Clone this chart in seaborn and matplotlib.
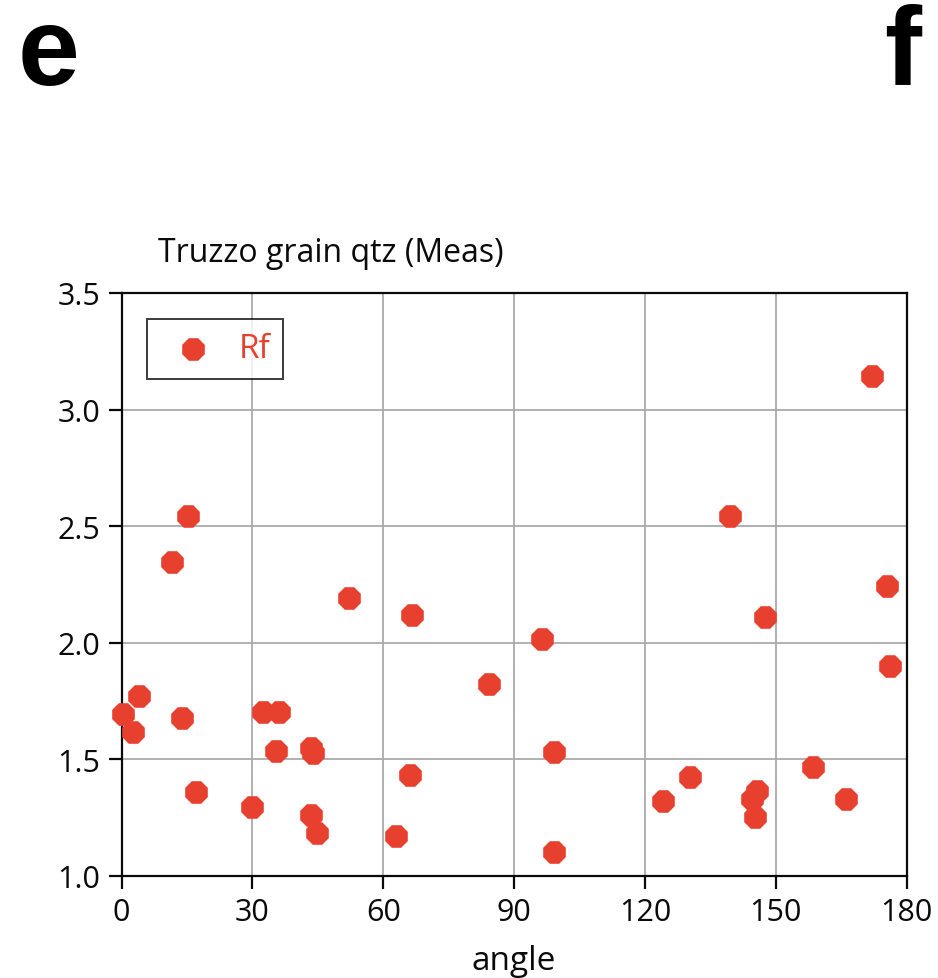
import matplotlib
matplotlib.use("Agg")
import matplotlib.pyplot as plt
import seaborn as sns
import pandas as pd

# data
angle = [15.3, 11.5, 52.2, 172.0, 139.6, 175.4, 66.6, 84.3, 4.0, 0.4, 2.7, 13.8,
         32.3, 36.1, 35.4, 43.4, 43.9, 66.1, 17.0, 29.9, 43.4, 44.9, 62.9,
         96.3, 99.2, 99.2, 147.5, 176.2, 124.2, 130.3, 145.6, 144.6, 145.2, 158.6, 166.0]
rf = [2.544, 2.344, 2.19, 3.145, 2.544, 2.242, 2.120, 1.822, 1.772, 1.694, 1.615, 1.677,
      1.701, 1.701, 1.534, 1.548, 1.526, 1.432, 1.358, 1.293, 1.262, 1.182, 1.172,
      2.015, 1.529, 1.103, 2.108, 1.901, 1.322, 1.422, 1.365, 1.329, 1.251, 1.465, 1.329]
x_ticks = [0, 30, 60, 90, 120, 150, 180]
y_ticks = [1.0, 1.5, 2.0, 2.5, 3.0, 3.5]
series_name = "Rf"
title = "Truzzo grain qtz (Meas)"
x_label = "angle"

df = pd.DataFrame({"angle": angle, "Rf": rf})

sns.set_theme(style="white")
plt.rcParams["font.family"] = ["Open Sans", "DejaVu Sans"]

red = "#E8402F"
ink = "#0a0a0a"
fig = plt.figure(figsize=(9.38, 9.79), dpi=100)
ax = fig.add_axes([0.1297, 0.1045, 0.9666 - 0.1297, 0.6997 - 0.1045])

sns.scatterplot(data=df, x="angle", y="Rf", ax=ax, color=red, marker="8", s=310,
                linewidth=0, label=series_name, zorder=3, clip_on=False)

ax.set_xlim(0, 180)
ax.set_ylim(1.0, 3.5)
ax.set_xticks(x_ticks)
ax.set_xticklabels([str(t) for t in x_ticks])
ax.set_yticks(y_ticks)
ax.set_yticklabels([f"{t:.1f}" for t in y_ticks])
ax.grid(True, color="#aaaaaa", linewidth=1.3)
ax.set_axisbelow(True)
for sp in ax.spines.values():
    sp.set_color(ink)
    sp.set_linewidth(1.6)
    sp.set_visible(True)
ax.tick_params(axis="both", which="major", direction="out", length=9.5, width=1.6,
               color=ink, labelsize=22, labelcolor=ink, pad=6,
               left=True, bottom=True)
ax.set_xlabel(x_label, fontsize=24, color=ink, labelpad=12)
ax.set_ylabel("")

leg = ax.legend(loc="upper left", bbox_to_anchor=(0.0318, 0.9554), frameon=True,
                fancybox=False, fontsize=24, handletextpad=0.35, borderpad=0.4,
                handlelength=2.0, markerscale=1.0, borderaxespad=0)
leg.get_frame().set_edgecolor(ink)
leg.get_frame().set_linewidth(1.4)
for t in leg.get_texts():
    t.set_color(red)

fig.text(158 / 938, 1 - 254 / 979, title, fontsize=23, color=ink,
         ha="left", va="center")
fig.text(18 / 938, 1 - 85 / 979, "e", fontsize=80, fontweight="bold",
         family="Liberation Sans", ha="left", va="baseline", color="black")
fig.text(921 / 938, 1 - 84 / 979, "f", fontsize=80, fontweight="bold",
         family="Liberation Sans", ha="right", va="baseline", color="black")

fig.savefig("out.png", dpi=100)
